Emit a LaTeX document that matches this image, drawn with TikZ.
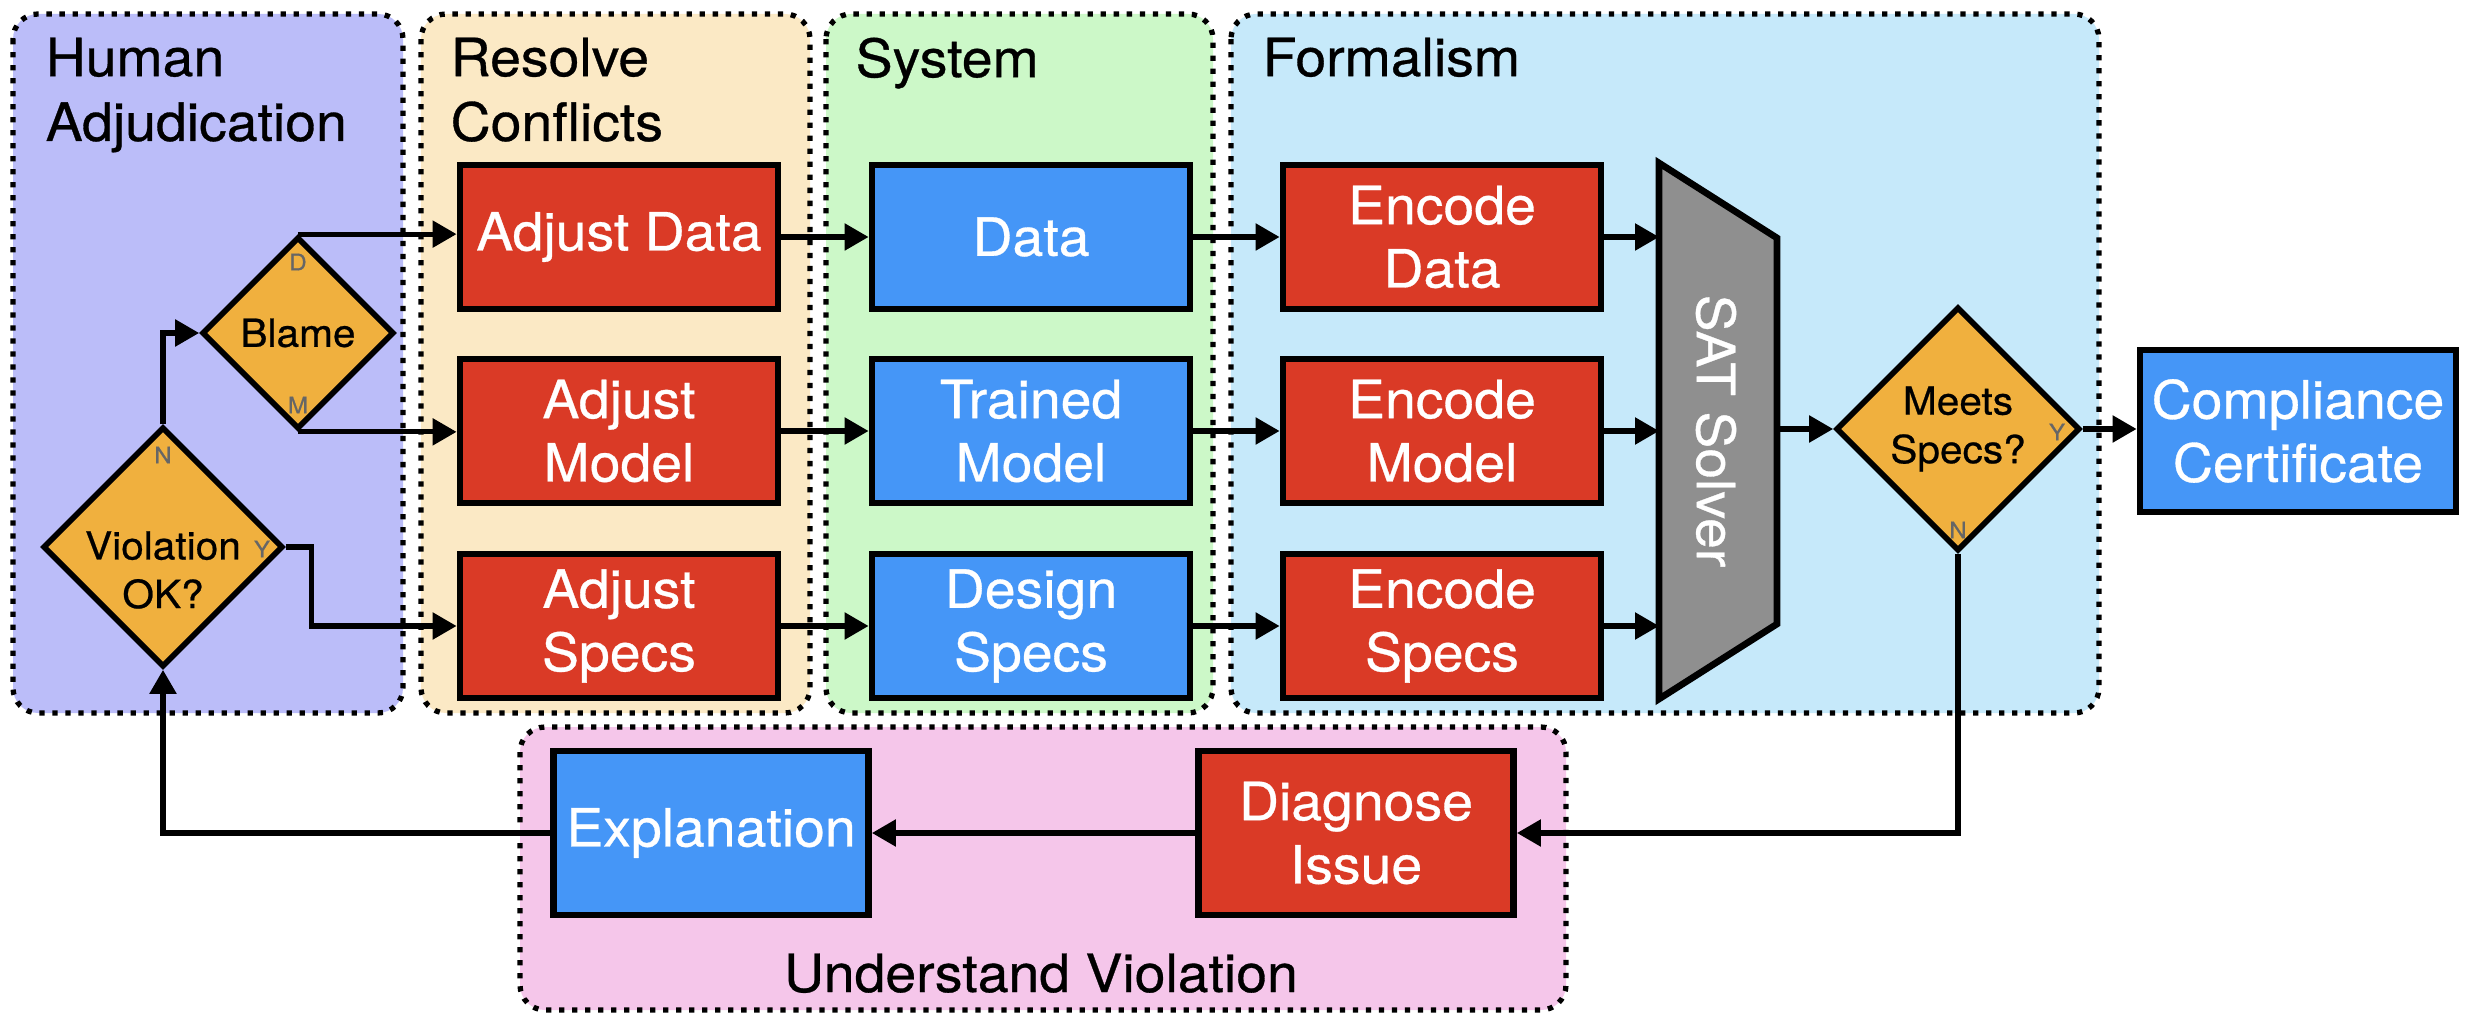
\documentclass[tikz,border=0pt]{standalone}
\usepackage{fontspec}
\setmainfont{TeX Gyre Heros}[FakeStretch=1.05,FakeBold=0.6]
\usetikzlibrary{shapes.geometric,arrows.meta}

\definecolor{humanbg}{HTML}{BBBDF9}
\definecolor{resolvebg}{HTML}{FBE9C5}
\definecolor{systembg}{HTML}{CCF8C8}
\definecolor{formalbg}{HTML}{C6E9FA}
\definecolor{explainbg}{HTML}{F5C6EA}
\definecolor{boxred}{HTML}{DA3A26}
\definecolor{boxblue}{HTML}{4596F7}
\definecolor{decorange}{HTML}{F0B03E}
\definecolor{satgray}{HTML}{8F8F8F}

\tikzset{
    panel/.style={draw=black,line width=1.5pt,dash pattern=on 1.5pt off 2.2pt,rounded corners=2.5mm},
    paneltitle/.style={anchor=north west,align=left,inner sep=0pt,font=\fontsize{15}{18.4}\selectfont},
    redbox/.style={draw=black,line width=1.9pt,fill=boxred,text=white,minimum width=3.18cm,minimum height=1.44cm,align=center,inner sep=0pt,font=\fontsize{15}{18}\selectfont},
    bluebox/.style={redbox,fill=boxblue},
    decision/.style={diamond,draw=black,line width=1.6pt,fill=decorange,inner sep=0pt,align=center,font=\fontsize{11}{13.8}\selectfont},
    branchtag/.style={text=black!60,inner sep=0pt,font=\fontsize{6.5}{7}\selectfont},
    flow/.style={line width=1.45pt,-{Triangle[length=6.8pt,width=7.4pt]}}
}

\begin{document}
\begin{tikzpicture}[x=0.01cm,y=-0.01cm]
                \useasboundingbox (0,0) rectangle (2470,1028);

            	\foreach \xa/\ya/\xb/\yb/\col in {13/14/403/713/humanbg,421/14/810/713/resolvebg,826/14/1213/713/systembg,1231/14/2099/713/formalbg,520/727/1566/1010/explainbg}
                {
                    \fill[fill=\col,panel] (\xa,\ya) rectangle (\xb,\yb);
                }

                \node[paneltitle] (humantitle) at (45,37) {Human\\Adjudication};
                \node[paneltitle] (resolvetitle) at (450,37) {Resolve\\Conflicts};
                \node[paneltitle] (systemtitle) at (855,37) {System};
                \node[paneltitle] (formaltitle) at (1262,37) {Formalism};
                \node[anchor=base,inner sep=0pt,font=\fontsize{15}{18}\selectfont] (explaintitle) at (1041,992) {Understand Violation};

                \node[redbox] (adjdata) at (619,237) {Adjust Data};
                \node[redbox] (adjmodel) at (619,431) {Adjust\\Model};
                \node[redbox] (adjspecs) at (619,626) {Adjust\\Specs};

                \node[bluebox] (data) at (1031,237) {Data};
                \node[bluebox] (trained) at (1031,431) {Trained\\Model};
                \node[bluebox] (design) at (1031,626) {Design\\Specs};

                \node[redbox] (encdata) at (1442,237) {Encode\\Data};
                \node[redbox] (encmodel) at (1442,431) {Encode\\Model};
                \node[redbox] (encspecs) at (1442,626) {Encode\\Specs};

                \node[bluebox,minimum width=3.16cm,minimum height=1.62cm] (cert) at (2298,431) {Compliance\\Certificate};
                \node[bluebox,minimum width=3.15cm,minimum height=1.64cm] (expl) at (711,833) {Explanation};
                \node[redbox,minimum width=3.15cm,minimum height=1.64cm] (diag) at (1356,833) {Diagnose\\Issue};

                \node[decision,minimum width=1.92cm,minimum height=1.92cm] (blame) at (298,333) {Blame};
                \node[decision,minimum width=2.4cm,minimum height=2.4cm] (viol) at (163,547) {};
                \node[align=center,inner sep=0pt,font=\fontsize{11}{13.8}\selectfont] (violtext) at (163,570) {Violation\\OK?};
                \node[decision,minimum width=2.44cm,minimum height=2.44cm] (meets) at (1958,429) {Meets\\Specs?};

                \node[branchtag] (tagd) at (298,262) {D};
                \node[branchtag] (tagm) at (298,405) {M};
                \node[branchtag] (tagn) at (163,455) {N};
                \node[branchtag] (tagy) at (262,549) {Y};
                \node[branchtag] (meetsy) at (2057,432) {Y};
                \node[branchtag] (meetsn) at (1958,530) {N};

                \coordinate (sata) at (1659,163);
                \coordinate (satb) at (1777,238);
                \coordinate (satc) at (1777,624);
                \coordinate (satd) at (1659,699);
                \fill[fill=satgray,draw=black,line width=1.9pt] (sata) -- (satb) -- (satc) -- (satd) -- cycle;
                \node[rotate=-90,text=white,inner sep=0pt,font=\fontsize{15}{18}\selectfont] (sat) at (1716,431) {SAT Solver};

                \draw[flow] (viol.north) |- (blame.west);
                \draw[flow] (blame.north) -- (blame.north -| adjdata.west);
                \draw[flow] (blame.south) -- (blame.south -| adjmodel.west);
                \draw[flow] (viol.east) -- ++(26,0) |- (adjspecs.west);

                \draw[flow] (adjdata) -- (data);
                \draw[flow] (adjmodel) -- (trained);
                \draw[flow] (adjspecs) -- (design);
                \draw[flow] (data) -- (encdata);
                \draw[flow] (trained) -- (encmodel);
                \draw[flow] (design) -- (encspecs);

                \draw[flow] (encdata.east) -- (encdata.east -| sata);
                \draw[flow] (encmodel.east) -- (encmodel.east -| sata);
                \draw[flow] (encspecs.east) -- (encspecs.east -| sata);

                \draw[flow] (meets.west -| satb) -- (meets.west);
                \draw[flow] (meets.east) -- (meets.east -| cert.west);
                \draw[flow] (meets.south) |- (diag.east);
                \draw[flow] (diag) -- (expl);
                \draw[flow] (expl.west) -| (viol.south);
            \end{tikzpicture}
\end{document}
